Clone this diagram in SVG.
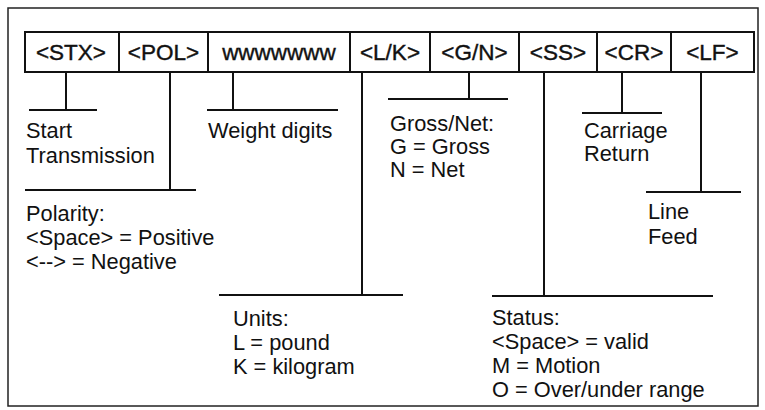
<svg xmlns="http://www.w3.org/2000/svg" width="765" height="410" viewBox="0 0 765 410">
<style>
.t{font-family:"Liberation Sans",Arial,sans-serif;font-size:21.8px;fill:#111}
.b{font-family:"Liberation Sans",Arial,sans-serif;font-size:22.5px;fill:#111;stroke:#111;stroke-width:0.4;text-anchor:middle}
.c{fill:#fff;stroke:#111;stroke-width:2}
.l{stroke:#111;stroke-width:2;fill:none}
</style>
<rect x="8" y="8" width="750" height="398" fill="#fff" stroke="#222" stroke-width="1.5"/>
<g id="fields">
<g id="stx"><rect class="c" x="25" y="32" width="94" height="40"/><text class="b" x="71" y="60">&lt;STX&gt;</text></g>
<g id="pol"><rect class="c" x="119" y="32" width="89" height="40"/><text class="b" x="163.5" y="60">&lt;POL&gt;</text></g>
<g id="weight"><rect class="c" x="208" y="32" width="142" height="40"/><text class="b" x="279" y="60">wwwwwww</text></g>
<g id="lk"><rect class="c" x="350" y="32" width="80" height="40"/><text class="b" x="390" y="60">&lt;L/K&gt;</text></g>
<g id="gn"><rect class="c" x="430" y="32" width="89" height="40"/><text class="b" x="474.5" y="60">&lt;G/N&gt;</text></g>
<g id="ss"><rect class="c" x="519" y="32" width="78" height="40"/><text class="b" x="558" y="60">&lt;SS&gt;</text></g>
<g id="cr"><rect class="c" x="597" y="32" width="74" height="40"/><text class="b" x="634" y="60">&lt;CR&gt;</text></g>
<g id="lf"><rect class="c" x="671" y="32" width="83" height="40"/><text class="b" x="712.5" y="60">&lt;LF&gt;</text></g>
</g>
<g id="connectors">
<path class="l" d="M66 72V110M29 110H97"/>
<path class="l" d="M170 72V190M25 190H196"/>
<path class="l" d="M233 72V110M207 110H338"/>
<path class="l" d="M362 72V295M219 295H403"/>
<path class="l" d="M469 72V99M388 99H508"/>
<path class="l" d="M544 72V296M492 296H713"/>
<path class="l" d="M622 72V113M582 113H662"/>
<path class="l" d="M701 72V192M646 192H741"/>
</g>
<g id="label-stx"><text class="t" x="26" y="138">Start</text><text class="t" x="26" y="163">Transmission</text></g>
<g id="label-pol"><text class="t" x="26" y="221">Polarity:</text><text class="t" x="26" y="245">&lt;Space&gt; = Positive</text><text class="t" x="26" y="269">&lt;--&gt; = Negative</text></g>
<g id="label-weight"><text class="t" x="208" y="138">Weight digits</text></g>
<g id="label-lk"><text class="t" x="233" y="326">Units:</text><text class="t" x="233" y="350">L = pound</text><text class="t" x="233" y="374">K = kilogram</text></g>
<g id="label-gn"><text class="t" x="390" y="131">Gross/Net:</text><text class="t" x="390" y="154">G = Gross</text><text class="t" x="390" y="177">N = Net</text></g>
<g id="label-ss"><text class="t" x="492" y="325">Status:</text><text class="t" x="492" y="349">&lt;Space&gt; = valid</text><text class="t" x="492" y="373">M = Motion</text><text class="t" x="492" y="397">O = Over/under range</text></g>
<g id="label-cr"><text class="t" x="584" y="138">Carriage</text><text class="t" x="584" y="161">Return</text></g>
<g id="label-lf"><text class="t" x="648" y="219">Line</text><text class="t" x="648" y="244">Feed</text></g>
</svg>
